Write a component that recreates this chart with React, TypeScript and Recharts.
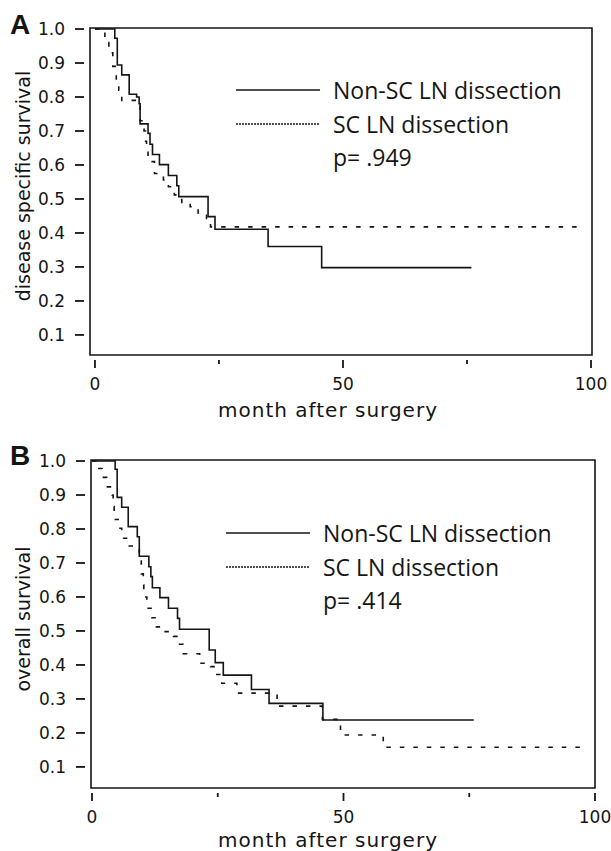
import React from 'react';
import { LineChart, Line, XAxis, YAxis, ReferenceArea, Legend } from 'recharts';

// Kaplan-Meier steps: month at which the estimate drops, survival after the drop
const dssNonScMonths = [0, 4.0, 4.5, 5.4, 6.9, 8.4, 8.9, 9.1, 10.7, 11.1, 11.6, 13.0, 14.8, 16.5, 16.9, 22.8, 24.2, 34.9, 45.7, 75.9];
const dssNonScSurv = [1.0, 0.973, 0.894, 0.865, 0.808, 0.8, 0.78, 0.721, 0.693, 0.661, 0.631, 0.601, 0.569, 0.539, 0.507, 0.448, 0.411, 0.36, 0.298, 0.298];

const dssScMonths = [0, 2.0, 2.8, 3.6, 4.3, 4.8, 5.4, 9.1, 9.9, 10.2, 10.4, 10.7, 12.0, 13.8, 14.8, 16.0, 17.5, 19.2, 20.8, 22.5, 23.3, 97.4];
const dssScSurv = [1.0, 0.96, 0.93, 0.89, 0.85, 0.82, 0.79, 0.73, 0.7, 0.67, 0.64, 0.61, 0.575, 0.556, 0.536, 0.512, 0.487, 0.477, 0.458, 0.443, 0.418, 0.418];

const osNonScMonths = [0, 4.6, 5.0, 5.9, 7.2, 9.0, 9.4, 11.3, 11.7, 12.0, 13.5, 15.2, 17.0, 17.4, 23.3, 24.5, 26.1, 31.7, 35.2, 45.9, 75.9];
const osNonScSurv = [1.0, 0.976, 0.893, 0.864, 0.807, 0.777, 0.72, 0.689, 0.66, 0.627, 0.598, 0.567, 0.537, 0.505, 0.444, 0.407, 0.37, 0.328, 0.287, 0.238, 0.238];

const osScMonths = [0, 0.9, 2.0, 2.9, 4.0, 4.2, 4.4, 5.2, 5.9, 7.1, 9.4, 9.8, 10.2, 10.3, 10.9, 11.9, 12.8, 14.3, 16.2, 17.2, 18.1, 21.4, 23.6, 24.8, 25.8, 28.8, 36.8, 45.8, 49.4, 57.9, 97.4];
const osScSurv = [1.0, 0.978, 0.952, 0.924, 0.9, 0.866, 0.828, 0.802, 0.773, 0.75, 0.706, 0.668, 0.635, 0.6, 0.567, 0.539, 0.512, 0.498, 0.484, 0.461, 0.433, 0.405, 0.395, 0.372, 0.346, 0.317, 0.279, 0.24, 0.194, 0.158, 0.158];

const groupNames = ['Non-SC LN dissection', 'SC LN dissection'];
const yTicks = [0.1, 0.2, 0.3, 0.4, 0.5, 0.6, 0.7, 0.8, 0.9, 1.0];
const xTicks = [0, 25, 50, 75, 100];
const xLabelledTicks = [0, 50, 100];

const toSteps = (months: number[], surv: number[]) => months.map((t, i) => ({ t, s: surv[i] }));

const INK = '#151515';
const TICK_FONT = 'DejaVu Sans, Verdana, sans-serif';
const TEXT_FONT = '"Open Sans", Calibri, sans-serif';

const YTick = (props: any) => {
  const { x, y, payload } = props;
  return (
    <g>
      <line x1={x - 15} x2={x - 6} y1={y} y2={y} stroke={INK} strokeWidth={1.8} />
      <text x={x - 25} y={y} textAnchor="end" dominantBaseline="central" fontSize={17} fontFamily={TICK_FONT} fill={INK}>
        {Number(payload.value).toFixed(1)}
      </text>
    </g>
  );
};

const XTick = (props: any) => {
  const { x, y, payload } = props;
  const labelled = xLabelledTicks.includes(payload.value);
  return (
    <g>
      <line x1={x} x2={x} y1={y + 5} y2={y + (labelled ? 13 : 9)} stroke={INK} strokeWidth={1.8} />
      {labelled && (
        <text x={x} y={y + 29} textAnchor="middle" dominantBaseline="central" fontSize={17} fontFamily={TICK_FONT} fill={INK}>
          {payload.value}
        </text>
      )}
    </g>
  );
};

const KeyBox = ({ pValue }: { pValue: string }) => (
  <svg width={380} height={110} style={{ display: 'block', overflow: 'visible' }}>
    <line x1={6} x2={90} y1={20} y2={20} stroke={INK} strokeWidth={1.5} />
    <line x1={6} x2={90} y1={54} y2={54} stroke={INK} strokeWidth={1.5} strokeDasharray="2 1" />
    <text x={103} y={20} dominantBaseline="central" fontSize={23} fontFamily={TEXT_FONT} fill={INK}>{groupNames[0]}</text>
    <text x={103} y={54} dominantBaseline="central" fontSize={23} fontFamily={TEXT_FONT} fill={INK}>{groupNames[1]}</text>
    <text x={103} y={87} dominantBaseline="central" fontSize={23} fontFamily={TEXT_FONT} fill={INK}>{pValue}</text>
  </svg>
);

type PanelProps = {
  top: number;
  height: number;
  margin: { top: number; right: number; bottom: number; left: number };
  xDomain: [number, number];
  yDomain: [number, number];
  nonSc: { t: number; s: number }[];
  sc: { t: number; s: number }[];
  letter: string;
  letterTop: number;
  yLabel: string;
  yLabelY: number;
  xLabelY: number;
  pValue: string;
  keyLeft: number;
  keyTop: number;
};

// axes are 1px thick so they still render; the frame is drawn by the ReferenceArea
const SurvivalPanel = (p: PanelProps) => (
  <div style={{ position: 'absolute', left: 0, top: p.top, width: 611, height: p.height }}>
    <LineChart width={611} height={p.height} margin={p.margin}>
      <XAxis
        type="number"
        dataKey="t"
        domain={p.xDomain}
        ticks={xTicks}
        height={1}
        axisLine={false}
        tickLine={false}
        tickSize={0}
        tickMargin={0}
        tick={<XTick />}
        interval={0}
        allowDataOverflow
      />
      <YAxis
        type="number"
        domain={p.yDomain}
        ticks={yTicks}
        width={1}
        axisLine={false}
        tickLine={false}
        tickSize={0}
        tickMargin={0}
        tick={<YTick />}
        interval={0}
        allowDataOverflow
      />
      <ReferenceArea
        x1={p.xDomain[0]}
        x2={p.xDomain[1]}
        y1={p.yDomain[0]}
        y2={p.yDomain[1]}
        fill="none"
        fillOpacity={0}
        stroke={INK}
        strokeWidth={1.6}
        ifOverflow="visible"
      />
      <Line data={p.nonSc} dataKey="s" name={groupNames[0]} type="stepAfter" stroke={INK} strokeWidth={1.6} dot={false} isAnimationActive={false} />
      <Line data={p.sc} dataKey="s" name={groupNames[1]} type="stepAfter" stroke={INK} strokeWidth={1.6} strokeDasharray="4.5 9" dot={false} isAnimationActive={false} />
      <Legend
        layout="vertical"
        align="center"
        verticalAlign="middle"
        content={() => <KeyBox pValue={p.pValue} />}
        wrapperStyle={{ position: 'absolute', left: p.keyLeft, top: p.keyTop, width: 380, height: 110 }}
      />
    </LineChart>
    <div style={{ position: 'absolute', left: 10, top: p.letterTop, fontFamily: '"Liberation Sans", Arial, sans-serif', fontWeight: 'bold', fontSize: 28, lineHeight: 1, color: INK }}>
      {p.letter}
    </div>
    <div style={{ position: 'absolute', left: 23, top: p.yLabelY, transform: 'translate(-50%, -50%) rotate(-90deg)', whiteSpace: 'nowrap', fontFamily: TICK_FONT, fontSize: 19, lineHeight: 1, color: INK }}>
      {p.yLabel}
    </div>
    <div style={{ position: 'absolute', left: 328, top: p.xLabelY, transform: 'translate(-50%, -50%)', whiteSpace: 'nowrap', fontFamily: TICK_FONT, fontSize: 20, letterSpacing: 1, lineHeight: 1, color: INK }}>
      month after surgery
    </div>
  </div>
);

export default function App() {
  return (
    <div style={{ position: 'absolute', left: 0, top: 0, width: 611, height: 851, background: '#fff' }}>
      <SurvivalPanel
        top={0}
        height={430}
        margin={{ top: 28, right: 19, bottom: 74, left: 89 }}
        xDomain={[-1, 100.2]}
        yDomain={[0.041, 1.003]}
        nonSc={toSteps(dssNonScMonths, dssNonScSurv)}
        sc={toSteps(dssScMonths, dssScSurv)}
        letter="A"
        letterTop={11}
        yLabel="disease specific survival"
        yLabelY={186}
        xLabelY={410}
        pValue="p= .949"
        keyLeft={230}
        keyTop={70}
      />
      <SurvivalPanel
        top={430}
        height={421}
        margin={{ top: 30, right: 16, bottom: 62, left: 90 }}
        xDomain={[-0.2, 100]}
        yDomain={[0.038, 1.003]}
        nonSc={toSteps(osNonScMonths, osNonScSurv)}
        sc={toSteps(osScMonths, osScSurv)}
        letter="B"
        letterTop={12}
        yLabel="overall survival"
        yLabelY={189}
        xLabelY={410}
        pValue="p= .414"
        keyLeft={220}
        keyTop={83}
      />
    </div>
  );
}
